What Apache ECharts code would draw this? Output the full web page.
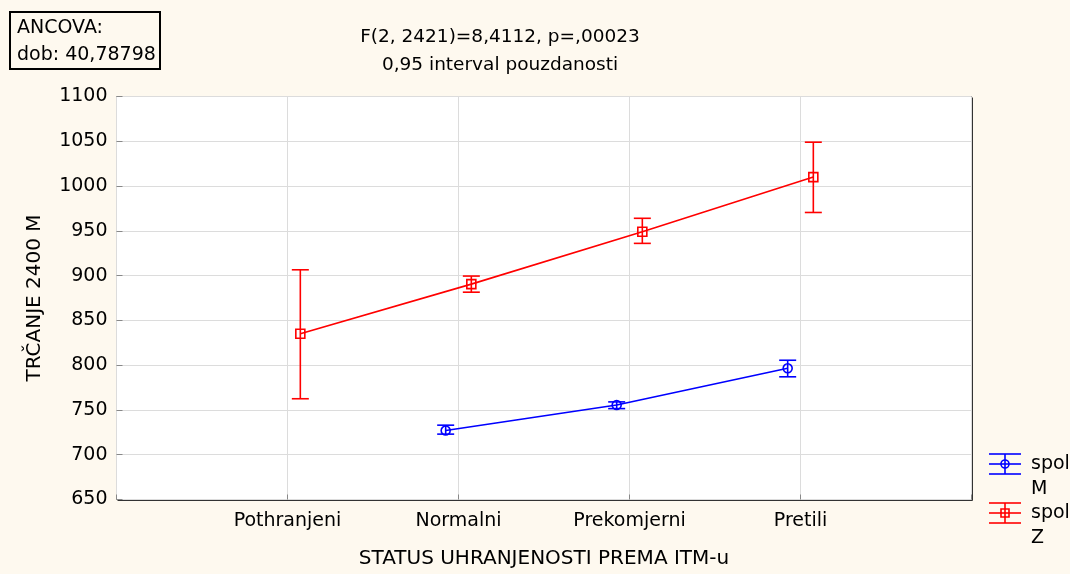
<!DOCTYPE html>
<html>
<head>
<meta charset="utf-8">
<script src="https://cdn.jsdelivr.net/npm/echarts@6/dist/echarts.min.js"></script>
<style>
html,body{margin:0;padding:0;background:#FEF9EF;}
#chart{width:1070px;height:574px;}
</style>
</head>
<body>
<div id="chart"></div>
<script>
// ---- data ----
const categories = ['Pothranjeni', 'Normalni', 'Prekomjerni', 'Pretili'];
const yTicks = [650, 700, 750, 800, 850, 900, 950, 1000, 1050, 1100];
const mMean = [null, 727, 755.5, 796.5];
const mLow  = [null, 723, 751.5, 787];
const mHigh = [null, 733, 759, 805.5];
const zMean = [835, 890.5, 949, 1010];
const zLow  = [762.5, 881.5, 936, 970.5];
const zHigh = [906.5, 899.5, 964, 1049];
const seriesNames = ['spol\nM', 'spol\nZ'];
const titleLines = ['F(2, 2421)=8,4112, p=,00023', '0,95 interval pouzdanosti'];
const boxLines = ['ANCOVA:', 'dob: 40,78798'];
const xAxisName = 'STATUS UHRANJENOSTI PREMA ITM-u';
const yAxisName = 'TRČANJE 2400 M';

// ---- layout constants ----
const FONT = 'DejaVu Sans';
const FS = 19;
const OFF = 0.075;
const LW = 1.6;
const BLUE = '#0000ff', RED = '#ff0000';
const GL = 116.5, GT = 96.5, GW = 855, GH = 403;

function pts(mean, off) {
  const out = [];
  mean.forEach((v, i) => { if (v != null) out.push([i + 1 + off, v]); });
  return out;
}
function errData(low, high, off) {
  const out = [];
  low.forEach((v, i) => { if (v != null) out.push([i + 1 + off, v, high[i]]); });
  return out;
}
function errSeries(data, color) {
  return {
    type: 'custom',
    z: 5,
    data: data,
    encode: { x: 0, y: [1, 2] },
    renderItem: function (params, api) {
      const x = api.value(0);
      const lo = api.coord([x, api.value(1)]);
      const hi = api.coord([x, api.value(2)]);
      const hw = 8.5;
      const st = { stroke: color, lineWidth: LW };
      return {
        type: 'group',
        children: [
          { type: 'line', shape: { x1: lo[0], y1: lo[1], x2: hi[0], y2: hi[1] }, style: st },
          { type: 'line', shape: { x1: lo[0] - hw, y1: lo[1], x2: lo[0] + hw, y2: lo[1] }, style: st },
          { type: 'line', shape: { x1: hi[0] - hw, y1: hi[1], x2: hi[0] + hw, y2: hi[1] }, style: st }
        ]
      };
    }
  };
}

function legendItem(y, color, sym, label) {
  const st = { stroke: color, lineWidth: LW, fill: null };
  const cx = 1005;
  const children = [
    { type: 'line', shape: { x1: 989, y1: y - 10, x2: 1021, y2: y - 10 }, style: st },
    { type: 'line', shape: { x1: 989, y1: y, x2: 1021, y2: y }, style: st },
    { type: 'line', shape: { x1: 989, y1: y + 10, x2: 1021, y2: y + 10 }, style: st },
    { type: 'line', shape: { x1: cx, y1: y - 10, x2: cx, y2: y + 10 }, style: st },
    sym === 'circle'
      ? { type: 'circle', shape: { cx: cx, cy: y, r: 4 }, style: { stroke: color, lineWidth: LW, fill: 'transparent' } }
      : { type: 'rect', shape: { x: cx - 4, y: y - 4, width: 8, height: 8 }, style: { stroke: color, lineWidth: LW, fill: 'transparent' } },
    { type: 'text', style: { x: 1031, y: y - 12, text: label, font: FS + 'px "' + FONT + '"', fill: '#000', lineHeight: 25, textVerticalAlign: 'top' } }
  ];
  return { type: 'group', children: children };
}

const chart = echarts.init(document.getElementById('chart'));
chart.setOption({
  backgroundColor: '#FEF9EF',
  animation: false,
  textStyle: { fontFamily: FONT },
  grid: {
    left: GL, top: GT, width: GW, height: GH,
    show: true, backgroundColor: '#ffffff', borderColor: '#000', borderWidth: 1
  },
  xAxis: {
    type: 'value', min: 0, max: categories.length + 1, interval: 1,
    name: xAxisName, nameLocation: 'middle', nameGap: 49,
    nameTextStyle: { fontSize: FS + 1, color: '#000', fontFamily: FONT },
    axisLine: { show: false },
    axisTick: { show: true, inside: true, length: 5, lineStyle: { color: '#888' } },
    axisLabel: {
      fontSize: FS, color: '#000', margin: 12, fontFamily: FONT,
      formatter: v => (v >= 1 && v <= categories.length ? categories[v - 1] : '')
    },
    splitLine: { show: true, lineStyle: { color: '#dcdcdc', width: 1 } }
  },
  yAxis: {
    type: 'value', min: yTicks[0], max: yTicks[yTicks.length - 1], interval: yTicks[1] - yTicks[0],
    name: yAxisName, nameLocation: 'middle', nameGap: 72,
    nameTextStyle: { fontSize: FS + 1, color: '#000', fontFamily: FONT },
    axisLine: { show: false },
    axisTick: { show: true, inside: true, length: 6, lineStyle: { color: '#888' } },
    axisLabel: { fontSize: FS, color: '#000', margin: 9, fontFamily: FONT, formatter: v => String(v) },
    splitLine: { show: true, lineStyle: { color: '#dcdcdc', width: 1 } }
  },
  graphic: [
    { type: 'rect', shape: { x: 10, y: 12, width: 150, height: 57 }, style: { fill: '#FEF9EF', stroke: '#000', lineWidth: 2 } },
    { type: 'text', style: { x: 17, y: 28, text: boxLines[0], font: FS + 'px "' + FONT + '"', fill: '#000', textVerticalAlign: 'middle' } },
    { type: 'text', style: { x: 17, y: 55, text: boxLines[1], font: FS + 'px "' + FONT + '"', fill: '#000', textVerticalAlign: 'middle' } },
    { type: 'text', style: { x: 500, y: 37, text: titleLines[0], font: '18.5px "' + FONT + '"', fill: '#000', textAlign: 'center', textVerticalAlign: 'middle' } },
    { type: 'text', style: { x: 500, y: 65, text: titleLines[1], font: '18.5px "' + FONT + '"', fill: '#000', textAlign: 'center', textVerticalAlign: 'middle' } },
    { type: 'line', shape: { x1: GL + GW + 1, y1: GT + 1, x2: GL + GW + 1, y2: GT + GH + 1 }, style: { stroke: '#333', lineWidth: 1 } },
    { type: 'line', shape: { x1: GL + 1, y1: GT + GH + 1, x2: GL + GW + 1, y2: GT + GH + 1 }, style: { stroke: '#333', lineWidth: 1 } },
    legendItem(464, BLUE, 'circle', seriesNames[0]),
    legendItem(513, RED, 'rect', seriesNames[1])
  ],
  series: [
    {
      name: seriesNames[0], type: 'line', data: pts(mMean, -OFF), z: 3,
      symbol: 'circle', symbolSize: 9,
      lineStyle: { color: BLUE, width: LW },
      itemStyle: { color: 'transparent', borderColor: BLUE, borderWidth: LW }
    },
    {
      name: seriesNames[1], type: 'line', data: pts(zMean, OFF), z: 3,
      symbol: 'rect', symbolSize: 9,
      lineStyle: { color: RED, width: LW },
      itemStyle: { color: 'transparent', borderColor: RED, borderWidth: LW }
    },
    errSeries(errData(mLow, mHigh, -OFF), BLUE),
    errSeries(errData(zLow, zHigh, OFF), RED)
  ]
});
</script>
</body>
</html>
